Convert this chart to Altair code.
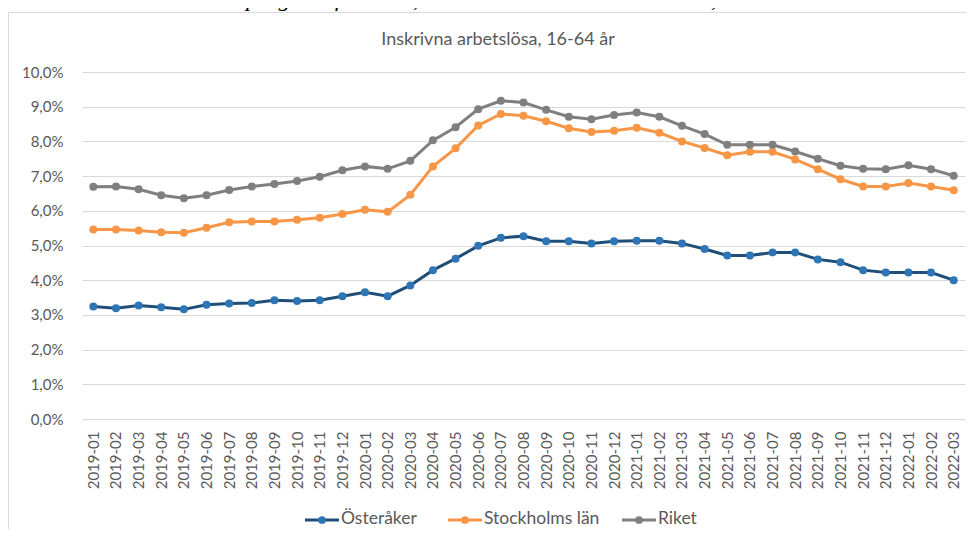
import altair as alt
import pandas as pd

months = [
    "2019-01", "2019-02", "2019-03", "2019-04", "2019-05", "2019-06", "2019-07", "2019-08",
    "2019-09", "2019-10", "2019-11", "2019-12", "2020-01", "2020-02", "2020-03", "2020-04",
    "2020-05", "2020-06", "2020-07", "2020-08", "2020-09", "2020-10", "2020-11", "2020-12",
    "2021-01", "2021-02", "2021-03", "2021-04", "2021-05", "2021-06", "2021-07", "2021-08",
    "2021-09", "2021-10", "2021-11", "2021-12", "2022-01", "2022-02", "2022-03",
]

osteraker = [3.24, 3.19, 3.27, 3.22, 3.16, 3.29, 3.33, 3.34, 3.42, 3.40, 3.42, 3.54,
             3.65, 3.54, 3.85, 4.29, 4.62, 4.99, 5.22, 5.27, 5.12, 5.12, 5.06, 5.12,
             5.14, 5.14, 5.06, 4.90, 4.71, 4.71, 4.80, 4.80, 4.60, 4.52, 4.29, 4.22,
             4.22, 4.22, 4.00]
stockholm = [5.46, 5.46, 5.43, 5.38, 5.37, 5.51, 5.67, 5.69, 5.69, 5.74, 5.80, 5.91,
             6.03, 5.97, 6.46, 7.28, 7.80, 8.46, 8.79, 8.74, 8.58, 8.38, 8.27, 8.31,
             8.39, 8.25, 8.00, 7.81, 7.60, 7.70, 7.70, 7.48, 7.20, 6.91, 6.70, 6.70,
             6.80, 6.70, 6.59]
riket = [6.69, 6.70, 6.62, 6.45, 6.36, 6.45, 6.60, 6.70, 6.77, 6.86, 6.98, 7.17,
         7.28, 7.21, 7.44, 8.03, 8.41, 8.93, 9.17, 9.12, 8.91, 8.71, 8.64, 8.76,
         8.83, 8.71, 8.45, 8.21, 7.90, 7.90, 7.90, 7.71, 7.50, 7.30, 7.21, 7.20,
         7.31, 7.20, 7.01]

series_names = ["Österåker", "Stockholms län", "Riket"]
y_ticks = [0, 1, 2, 3, 4, 5, 6, 7, 8, 9, 10]

chart_title = "Inskrivna arbetslösa, 16-64 år"
page_heading = "arbetslösa och sökande i program för riket, Stockholms län och Österåker, 16-64 år"

line_colors = ["#1F4E79", "#F79646", "#7F7F7F"]
marker_colors = ["#2E75B6", "#F79646", "#7F7F7F"]

rows = []
for name, vals in zip(series_names, [osteraker, stockholm, riket]):
    for m, v in zip(months, vals):
        rows.append({"month": m, "value": v, "series": name})
df = pd.DataFrame(rows)

FONT = "Lato"
TXT = "#595959"
GRID = "#D9D9D9"
W, H = 883, 347

x_enc = alt.X(
    "month:O", sort=months,
    scale=alt.Scale(type="point", padding=0.5),
    axis=alt.Axis(title=None, labelAngle=-90, labelFontSize=15, labelColor=TXT,
                  labelFont=FONT, domain=False, ticks=False, labelPadding=12, grid=False),
)
y_enc = alt.Y(
    "value:Q",
    scale=alt.Scale(domain=[0, 10], nice=False),
    axis=alt.Axis(title=None, values=y_ticks, domain=False, ticks=False,
                  labelExpr="replace(format(datum.value, '.1f'), '.', ',') + '%'",
                  labelFontSize=15, labelColor=TXT, labelFont=FONT, labelPadding=19,
                  gridColor=GRID, gridWidth=1),
)

base = alt.Chart(df)
lines = base.mark_line(strokeWidth=3).encode(
    x=x_enc, y=y_enc,
    stroke=alt.Stroke("series:N", scale=alt.Scale(domain=series_names, range=line_colors), legend=None),
    detail="series:N",
)
points = base.mark_circle(size=64, opacity=1).encode(
    x=x_enc, y=y_enc,
    fill=alt.Fill("series:N", scale=alt.Scale(domain=series_names, range=marker_colors), legend=None),
)

one = pd.DataFrame({"k": [0]})

border = alt.Chart(one).mark_rect(fill="transparent", stroke=GRID, strokeWidth=1).encode(
    x=alt.value(-73.5), x2=alt.value(W + 200), y=alt.value(-59.5), y2=alt.value(H + 300)
)

title_txt = alt.Chart(pd.DataFrame({"t": [chart_title]})).mark_text(
    font=FONT, fontSize=18, color=TXT, align="center", baseline="middle"
).encode(x=alt.value(416), y=alt.value(-32), text="t:N")

heading_txt = alt.Chart(pd.DataFrame({"t": [page_heading]})).mark_text(
    font="Liberation Serif", fontStyle="italic", fontSize=24, color="#000000",
    align="left", baseline="alphabetic"
).encode(x=alt.value(-80), y=alt.value(-66), text="t:N")

legend_layers = []
leg_y = 448
leg_x = [223, 366, 540]
for i, name in enumerate(series_names):
    d = pd.DataFrame({"t": [name]})
    x0 = leg_x[i]
    legend_layers.append(
        alt.Chart(d).mark_rule(color=line_colors[i], strokeWidth=3).encode(
            x=alt.value(x0), x2=alt.value(x0 + 34), y=alt.value(leg_y))
    )
    legend_layers.append(
        alt.Chart(d).mark_circle(color=marker_colors[i], size=60, opacity=1).encode(
            x=alt.value(x0 + 17), y=alt.value(leg_y))
    )
    legend_layers.append(
        alt.Chart(d).mark_text(font=FONT, fontSize=17.5, color=TXT, align="left", baseline="middle").encode(
            x=alt.value(x0 + 36), y=alt.value(leg_y - 1), text="t:N")
    )

chart = alt.layer(border, lines, points, title_txt, heading_txt, *legend_layers).properties(
    width=W, height=H,
    autosize=alt.AutoSizeParams(type="none"),
    padding={"left": 74, "top": 64, "right": 1, "bottom": 110},
).configure_view(strokeWidth=0)

chart.save("out.html", embed_options={"renderer": "svg", "actions": False})
